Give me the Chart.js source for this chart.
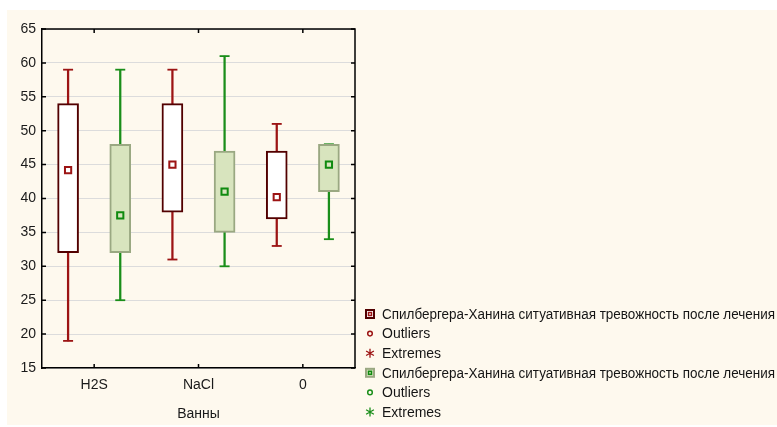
<!DOCTYPE html>
<html><head><meta charset="utf-8">
<script src="https://cdn.jsdelivr.net/npm/chart.js@4/dist/chart.umd.min.js"></script>
<style>html,body{margin:0;padding:0;background:#fff;overflow:hidden}canvas{display:block}</style>
</head><body>
<canvas id="c" width="777" height="427"></canvas>
<script>
// ---- data ----
const categories = ['H2S', 'NaCl', '0'];
const axisTitle = 'Ванны';
const seriesName = 'Спилбергера-Ханина ситуативная тревожность после лечения';
const legendLabels = [seriesName, 'Outliers', 'Extremes', seriesName, 'Outliers', 'Extremes'];
const legendKinds = ['box', 'outlier', 'extreme', 'box', 'outlier', 'extreme'];
const legendSeries = [0, 0, 0, 1, 1, 1];
const yTicks = [15, 20, 25, 30, 35, 40, 45, 50, 55, 60, 65];

// series 1 (dark red)
const redMin = [19, 31, 33];
const redQ1 = [32, 38, 37];
const redMid = [44.2, 45, 40.2];
const redQ3 = [54, 54, 47];
const redMax = [59, 59, 51];
// series 2 (green)
const greenMin = [25, 30, 34];
const greenQ1 = [32, 35, 41];
const greenMid = [37.5, 41, 45];
const greenQ3 = [48, 47, 48];
const greenMax = [59, 61, 48];

// ---- styles ----
const FONT = '"Liberation Sans", Arial, sans-serif';
const styles = [
  {border: '#520000', fill: '#ffffff', line: '#9c1414', mean: '#9c1414', meanFill: '#ffffff', offset: -0.25},
  {border: '#9aa882', fill: '#d8e4be', line: '#1a8e1a', mean: '#0f8a0f', meanFill: '#d8e4be', offset: 0.25}
];
const series = [
  {min: redMin, q1: redQ1, mid: redMid, q3: redQ3, max: redMax},
  {min: greenMin, q1: greenQ1, mid: greenMid, q3: greenQ3, max: greenMax}
];

const datasets = [];
// means on top
series.forEach((s, k) => {
  const st = styles[k];
  datasets.push({type: 'scatter', order: 0, data: categories.map((c, i) => ({x: i + st.offset, y: s.mid[i]})),
    pointStyle: 'rect', radius: 4.4, borderWidth: 2, borderColor: st.mean, backgroundColor: st.meanFill});
});
series.forEach((s, k) => {
  const st = styles[k];
  datasets.push({type: 'bar', order: 1, grouped: false, barThickness: 21,
    data: categories.map((c, i) => ({x: i + st.offset, y: [s.q1[i], s.q3[i]]})),
    backgroundColor: st.fill, borderColor: st.border, borderWidth: 2, borderSkipped: false});
});
series.forEach((s, k) => {
  const st = styles[k];
  ['min', 'max'].forEach(key => {
    datasets.push({type: 'scatter', order: 2, data: categories.map((c, i) => ({x: i + st.offset, y: s[key][i]})),
      pointStyle: 'line', radius: 5, borderWidth: 1.8, borderColor: st.line, backgroundColor: st.line});
  });
  datasets.push({type: 'bar', order: 3, grouped: false, barThickness: 1.6,
    data: categories.map((c, i) => ({x: i + st.offset, y: [s.min[i], s.max[i]]})),
    backgroundColor: st.line, borderWidth: 0});
});

const bgPlugin = {
  id: 'bg',
  beforeDraw(chart) {
    const ctx = chart.ctx;
    ctx.save();
    ctx.fillStyle = '#ffffff';
    ctx.fillRect(0, 0, chart.width, chart.height);
    ctx.fillStyle = '#fef9ee';
    ctx.fillRect(7, 10, chart.width - 7, 415);
    ctx.restore();
  }
};

const framePlugin = {
  id: 'frame',
  afterDraw(chart) {
    const ctx = chart.ctx, a = chart.chartArea;
    const xs = chart.scales.x, ys = chart.scales.y;
    ctx.save();
    ctx.strokeStyle = '#000';
    ctx.lineWidth = 1.5;
    ctx.beginPath();
    ctx.moveTo(a.left, a.top); ctx.lineTo(a.right, a.top); ctx.lineTo(a.right, a.bottom);
    ctx.stroke();
    ctx.lineWidth = 1.5;
    ctx.beginPath();
    yTicks.forEach(v => {
      const y = ys.getPixelForValue(v);
      ctx.moveTo(a.left, y); ctx.lineTo(a.left + 4, y);
      ctx.moveTo(a.right, y); ctx.lineTo(a.right - 4, y);
    });
    categories.forEach((c, i) => {
      const x = xs.getPixelForValue(i);
      ctx.moveTo(x, a.top); ctx.lineTo(x, a.top + 4);
      ctx.moveTo(x, a.bottom); ctx.lineTo(x, a.bottom - 4);
    });
    ctx.stroke();

    // legend
    const x0 = a.right + 10, y0 = 314, step = 19.6;
    const textX = x0 + 17, textMax = chart.width - 2 - textX;
    legendLabels.forEach((label, j) => {
      const st = styles[legendSeries[j]];
      const cy = y0 + j * step;
      const kind = legendKinds[j];
      if (kind === 'box') {
        ctx.fillStyle = st.border;
        ctx.fillRect(x0, cy - 5, 10, 10);
        ctx.fillStyle = st.fill;
        ctx.fillRect(x0 + 2, cy - 3, 6, 6);
        ctx.strokeStyle = st.mean; ctx.lineWidth = 1.5;
        ctx.strokeRect(x0 + 3.5, cy - 1.5, 3, 3);
      } else if (kind === 'outlier') {
        ctx.strokeStyle = st.line; ctx.lineWidth = 1.5;
        ctx.beginPath(); ctx.arc(x0 + 5, cy, 2.3, 0, Math.PI * 2); ctx.stroke();
      } else {
        ctx.strokeStyle = st.line; ctx.lineWidth = 1.3;
        ctx.beginPath();
        for (let k = 0; k < 3; k++) {
          const ang = Math.PI / 2 + k * Math.PI / 3;
          ctx.moveTo(x0 + 5 + Math.cos(ang) * 4.5, cy + Math.sin(ang) * 4.5);
          ctx.lineTo(x0 + 5 - Math.cos(ang) * 4.5, cy - Math.sin(ang) * 4.5);
        }
        ctx.stroke();
      }
      ctx.fillStyle = '#151515';
      ctx.font = '14px ' + FONT;
      ctx.textBaseline = 'middle';
      ctx.textAlign = 'left';
      ctx.fillText(label, textX, cy + 1, textMax);
    });
    ctx.restore();
  }
};

new Chart(document.getElementById('c'), {
  data: {datasets},
  plugins: [bgPlugin, framePlugin],
  options: {
    responsive: false,
    animation: false,
    events: [],
    layout: {padding: {left: 7, top: 29, right: 422, bottom: 0}},
    plugins: {legend: {display: false}, tooltip: {enabled: false}},
    scales: {
      x: {
        type: 'linear', min: -0.5, max: 2.5, offset: false,
        afterBuildTicks: s => { s.ticks = categories.map((c, i) => ({value: i})); },
        afterFit: s => { s.height = 59; },
        ticks: {callback: v => categories[v], font: {family: FONT, size: 14}, color: '#1a1a1a', padding: 9, maxRotation: 0, autoSkip: false},
        grid: {display: false, drawTicks: false},
        border: {color: '#000', width: 1.5},
        title: {display: true, text: axisTitle, font: {family: FONT, size: 14}, color: '#1a1a1a', padding: {top: 0, bottom: 4}}
      },
      y: {
        type: 'linear', min: 15, max: 65,
        afterBuildTicks: s => { s.ticks = yTicks.map(v => ({value: v})); },
        afterFit: s => { s.width = 35; },
        ticks: {font: {family: FONT, size: 14}, color: '#1a1a1a', padding: 6},
        grid: {color: '#dcdcdc', lineWidth: 1, drawTicks: false},
        border: {color: '#000', width: 1.5}
      }
    }
  }
});
</script>
</body></html>
